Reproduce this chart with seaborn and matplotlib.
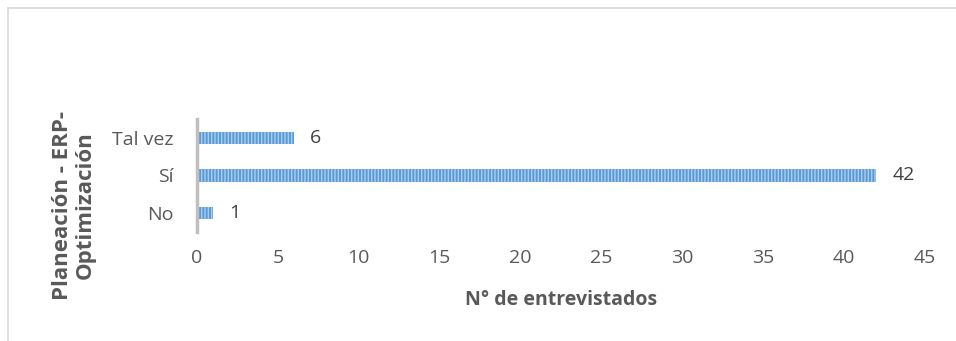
import matplotlib
matplotlib.use("Agg")
import matplotlib.pyplot as plt
import seaborn as sns
import pandas as pd

categories = ["Tal vez", "Sí", "No"]
values = [6, 42, 1]
x_ticks = [0, 5, 10, 15, 20, 25, 30, 35, 40, 45]

sns.set_theme(style="white")
plt.rcParams["font.family"] = ["Open Sans", "DejaVu Sans"]
plt.rcParams["hatch.color"] = "#a9cdf0"
plt.rcParams["hatch.linewidth"] = 1.0

df = pd.DataFrame({"respuesta": categories, "n": values})

W, H = 956, 341
fig = plt.figure(figsize=(W / 100, H / 100), dpi=100)
ax = fig.add_axes([197 / W, 1 - 232 / H, (925 - 197) / W, (232 - 119) / H])

sns.barplot(data=df, x="n", y="respuesta", order=categories, color="#5b9bd5",
            saturation=1, width=0.33, ax=ax)
for p in ax.patches:
    p.set_hatch("|||||")
    p.set_edgecolor("#a9cdf0")
    p.set_linewidth(0)

for i, v in enumerate(values):
    ax.text(v + 1.0, i, str(v), va="center", ha="left", fontsize=14, color="#404040")

ax.set_xlim(0, 45)
ax.set_ylim(2.5, -0.5)
ax.set_xticks(x_ticks)
ax.set_xticklabels([str(t) for t in x_ticks], fontsize=14, color="#595959")
ax.tick_params(axis="y", labelsize=14, labelcolor="#595959", length=0, pad=17)
ax.tick_params(axis="x", length=0, pad=12)

for s in ["top", "right", "bottom"]:
    ax.spines[s].set_visible(False)
ax.spines["left"].set_color("#bfbfbf")
ax.spines["left"].set_linewidth(2.5)

ax.set_xlabel("")
ax.set_ylabel("")
fig.text(561 / W, 1 - 300 / H, "N° de entrevistados", ha="center", va="center",
         fontsize=14, fontweight="bold", color="#595959")
fig.text(74 / W, 1 - 205 / H, "Planeación - ERP-\nOptimización", ha="center", va="center",
         rotation=90, multialignment="center", linespacing=1.15,
         fontsize=16, fontweight="bold", color="#595959")

# chart area border
fig.add_artist(plt.Line2D([7.5 / W, 7.5 / W], [0, 1 - 8 / H], color="#d9d9d9", lw=1.2))
fig.add_artist(plt.Line2D([7.5 / W, 1], [1 - 8 / H, 1 - 8 / H], color="#d9d9d9", lw=1.2))

fig.savefig("out.png", dpi=100)
